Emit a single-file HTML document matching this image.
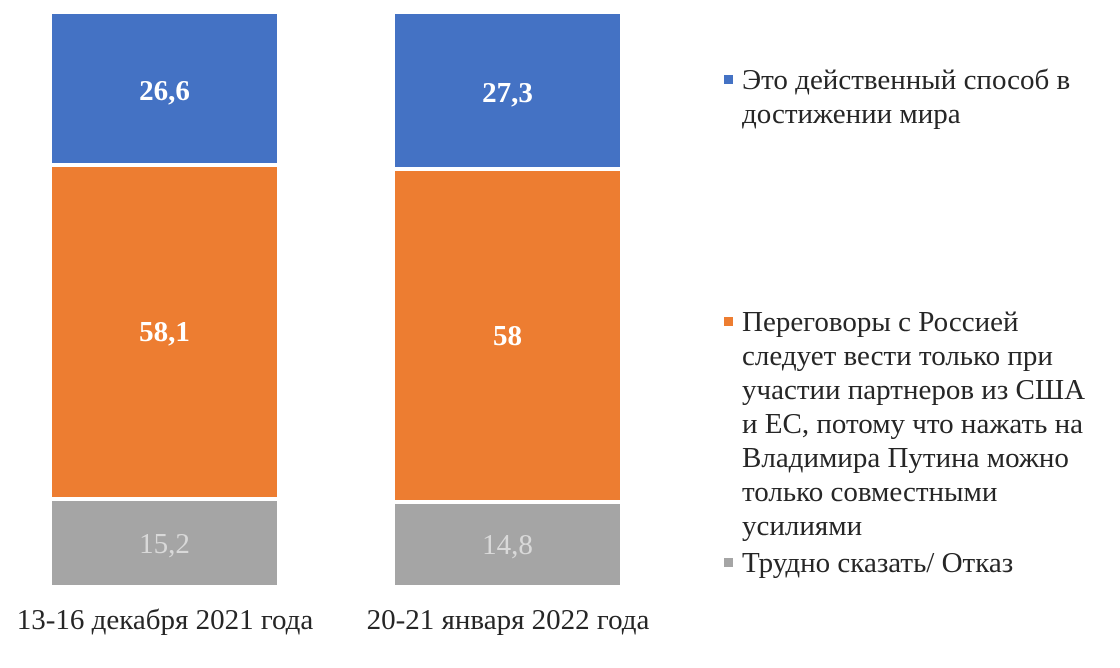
<!DOCTYPE html>
<html><head><meta charset="utf-8"><style>
body{margin:0;width:1120px;height:668px;background:#fff;position:relative;overflow:hidden;font-family:"Liberation Serif",serif;}
.b{position:absolute;}
.v{position:absolute;width:225px;text-align:center;font-size:29px;line-height:32px;}
.l{position:absolute;left:742px;font-size:29px;line-height:34px;color:#262626;white-space:nowrap}
.m{position:absolute;left:724px;width:9px;height:9px}
.x{position:absolute;width:400px;text-align:center;font-size:29px;color:#262626;top:604px}
</style></head><body>
<div class="b" style="left:52px;top:14px;width:225px;height:149px;background:#4472c4"></div>
<div class="b" style="left:52px;top:167px;width:225px;height:330px;background:#ed7d31"></div>
<div class="b" style="left:52px;top:501px;width:225px;height:84px;background:#a5a5a5"></div>
<div class="b" style="left:395px;top:14px;width:225px;height:153px;background:#4472c4"></div>
<div class="b" style="left:395px;top:171px;width:225px;height:329px;background:#ed7d31"></div>
<div class="b" style="left:395px;top:504px;width:225px;height:81px;background:#a5a5a5"></div>
<div class="v" style="left:52px;top:75px;color:#fff;font-weight:bold">26,6</div>
<div class="v" style="left:52px;top:316px;color:#fff;font-weight:bold">58,1</div>
<div class="v" style="left:52px;top:528px;color:#d9d9d9">15,2</div>
<div class="v" style="left:395px;top:77px;color:#fff;font-weight:bold">27,3</div>
<div class="v" style="left:395px;top:320px;color:#fff;font-weight:bold">58</div>
<div class="v" style="left:395px;top:529px;color:#d9d9d9">14,8</div>
<div class="m" style="top:75px;background:#4472c4"></div>
<div class="l" style="top:63px">Это действенный способ в<br>достижении мира</div>
<div class="m" style="top:317px;background:#ed7d31"></div>
<div class="l" style="top:305px">Переговоры с Россией<br>следует вести только при<br>участии партнеров из США<br>и ЕС, потому что нажать на<br>Владимира Путина можно<br>только совместными<br>усилиями</div>
<div class="m" style="top:558px;background:#a5a5a5"></div>
<div class="l" style="top:546px">Трудно сказать/ Отказ</div>
<div class="x" style="left:-35px">13-16 декабря 2021 года</div>
<div class="x" style="left:308px">20-21 января 2022 года</div>
</body></html>
